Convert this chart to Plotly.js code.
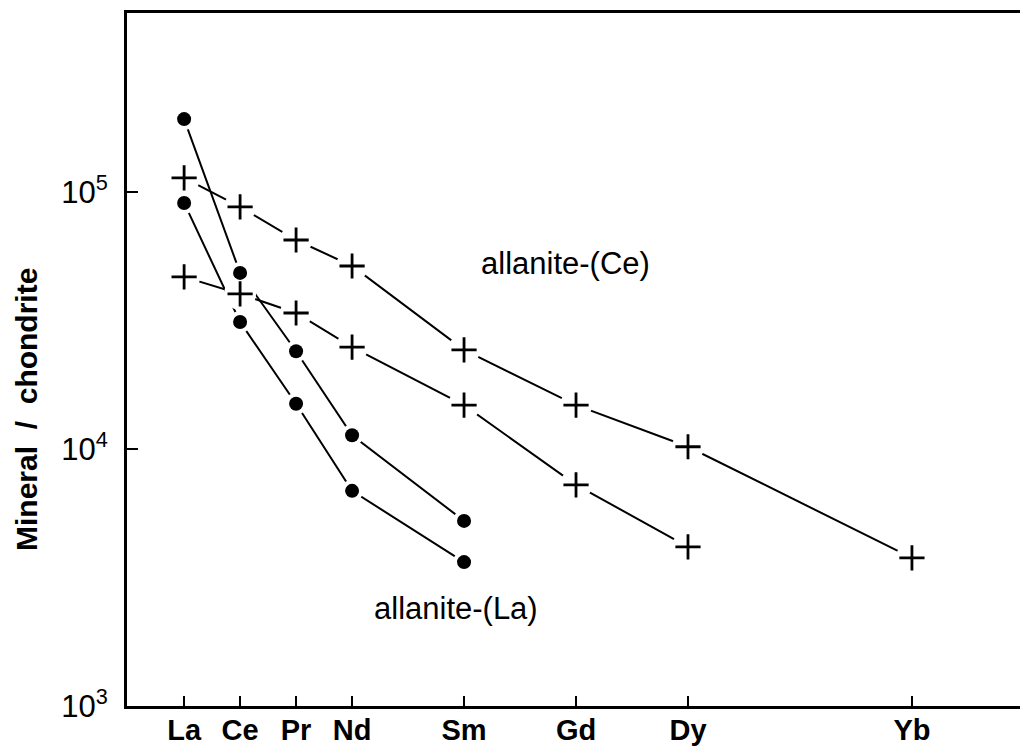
<!DOCTYPE html>
<html>
<head>
<meta charset="utf-8">
<script src="https://cdn.plot.ly/plotly-3.0.1.min.js"></script>
<style>html,body{margin:0;padding:0;background:#fff;}#chart{width:1020px;height:747px;}</style>
</head>
<body>
<div id="chart"></div>
<script>
// REE elements and their atomic numbers (x position in a chondrite-normalised diagram)
var elements = ['La', 'Ce', 'Pr', 'Nd', 'Sm', 'Gd', 'Dy', 'Yb'];
var atomicNumber = [57, 58, 59, 60, 62, 64, 66, 70];

// allanite-(La) samples (filled dots)
var laHighElements = ['La', 'Ce', 'Pr', 'Nd', 'Sm'];
var laHighValues = [192000, 48400, 24000, 11300, 5250];
var laLowElements = ['La', 'Ce', 'Pr', 'Nd', 'Sm'];
var laLowValues = [90600, 31200, 15000, 6870, 3630];

// allanite-(Ce) samples (crosses)
var ceHighElements = ['La', 'Ce', 'Pr', 'Nd', 'Sm', 'Gd', 'Dy', 'Yb'];
var ceHighValues = [113400, 87400, 65000, 51500, 24300, 14800, 10200, 3770];
var ceLowElements = ['La', 'Ce', 'Pr', 'Nd', 'Sm', 'Gd', 'Dy'];
var ceLowValues = [46700, 40100, 33800, 24900, 14800, 7250, 4160];

var yTickValues = [1000, 10000, 100000];
var yTickLabels = ['10<sup>3</sup>', '10<sup>4</sup>', '10<sup>5</sup>'];

function zOf(list) { return list.map(function (e) { return atomicNumber[elements.indexOf(e)]; }); }

var series = [
  {els: laHighElements, vals: laHighValues, kind: 'dot'},
  {els: laLowElements, vals: laLowValues, kind: 'dot'},
  {els: ceHighElements, vals: ceHighValues, kind: 'cross'},
  {els: ceLowElements, vals: ceLowValues, kind: 'cross'}
];

var traces = [];
// connecting lines, with a white disc at each point so the line stops short of the symbol
series.forEach(function (s) {
  traces.push({x: zOf(s.els), y: s.vals, mode: 'lines+markers', type: 'scatter',
    line: {color: '#000', width: 2},
    marker: {symbol: 'circle', color: '#ffffff', opacity: 1, size: s.kind === 'dot' ? 22 : 32, line: {width: 0}},
    hoverinfo: 'skip', showlegend: false});
});
series.forEach(function (s) {
  var m = s.kind === 'dot'
    ? {symbol: 'circle', color: '#000', size: 14, line: {width: 0}}
    : {symbol: 'cross-thin', color: '#000', size: 18, line: {width: 2.8, color: '#000'}};
  traces.push({x: zOf(s.els), y: s.vals, mode: 'markers', type: 'scatter',
    marker: m, showlegend: false});
});

var font = 'Liberation Sans, Arial, Helvetica, sans-serif';

var layout = {
  width: 1020, height: 747,
  margin: {l: 127, r: 0, t: 13, b: 41, pad: 0},
  paper_bgcolor: '#fff', plot_bgcolor: '#fff',
  showlegend: false,
  font: {family: font, color: '#000'},
  xaxis: {
    range: [55.98, 71.93],
    tickvals: atomicNumber,
    ticktext: elements.map(function (e) { return '<b>' + e + '</b>'; }),
    tickfont: {size: 29, family: font, color: '#000'},
    ticks: 'inside', ticklen: 10, tickwidth: 2, tickcolor: '#000',
    ticklabelstandoff: -4,
    showline: true, linecolor: '#000', linewidth: 3, mirror: true,
    showgrid: false, zeroline: false, fixedrange: true
  },
  yaxis: {
    type: 'log',
    range: [3, 5.696],
    tickvals: yTickValues,
    ticktext: yTickLabels,
    tickfont: {size: 31, family: font, color: '#000'},
    ticks: 'inside', ticklen: 11, tickwidth: 2, tickcolor: '#000',
    ticklabelstandoff: 10,
    showline: true, linecolor: '#000', linewidth: 3, mirror: false,
    showgrid: false, zeroline: false, fixedrange: true
  },
  annotations: [
    {text: '<b>Mineral  /  chondrite</b>', xref: 'paper', yref: 'paper',
     x: (26 - 127) / 893, y: (706 - 410) / 693, textangle: -90, showarrow: false,
     font: {size: 30, family: font, color: '#000'}, xanchor: 'center', yanchor: 'middle'},
    {text: 'allanite-(Ce)', xref: 'paper', yref: 'paper',
     x: (565 - 127) / 893, y: (706 - 263) / 693, showarrow: false,
     font: {size: 31, family: font, color: '#000'}, xanchor: 'center', yanchor: 'middle'},
    {text: 'allanite-(La)', xref: 'paper', yref: 'paper',
     x: (456 - 127) / 893, y: (706 - 608) / 693, showarrow: false,
     font: {size: 31, family: font, color: '#000'}, xanchor: 'center', yanchor: 'middle'}
  ]
};

Plotly.newPlot('chart', traces, layout, {displayModeBar: false, staticPlot: true});
</script>
</body>
</html>
